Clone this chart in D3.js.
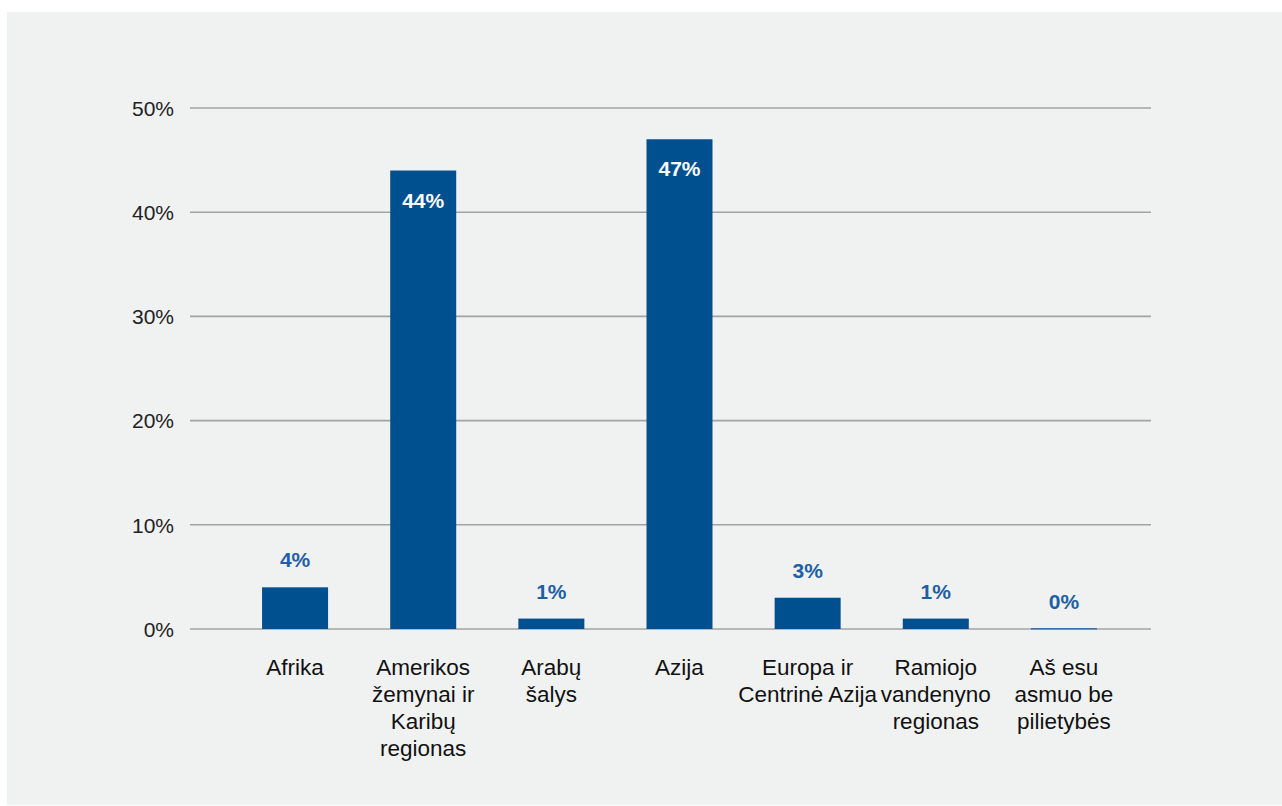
<!DOCTYPE html>
<html>
<head>
<meta charset="utf-8">
<script src="https://cdn.jsdelivr.net/npm/d3@7"></script>
<style>
  html, body { margin: 0; padding: 0; background: #ffffff; }
  svg { display: block; }
</style>
</head>
<body>
<svg id="chart" width="1282" height="806"></svg>
<script>
const categories = [
  ["Afrika"],
  ["Amerikos", "žemynai ir", "Karibų", "regionas"],
  ["Arabų", "šalys"],
  ["Azija"],
  ["Europa ir", "Centrinė Azija"],
  ["Ramiojo", "vandenyno", "regionas"],
  ["Aš esu", "asmuo be", "pilietybės"]
];
const values = [4, 44, 1, 47, 3, 1, 0];
const yTicks = [0, 10, 20, 30, 40, 50];

const svg = d3.select("#chart");
svg.append("rect").attr("x", 7).attr("y", 12).attr("width", 1275).attr("height", 793).attr("fill", "#f0f1f1");

const gridLeft = 190, gridRight = 1151;
const y = d3.scaleLinear().domain([0, 50]).range([629, 108]);
const x = d3.scaleBand().domain(d3.range(categories.length)).range([231, 1128]).paddingInner(0.485).paddingOuter(0.2425);

// gridlines
svg.append("g").selectAll("line").data(yTicks).join("line")
  .attr("x1", gridLeft).attr("x2", gridRight)
  .attr("y1", d => y(d)).attr("y2", d => y(d))
  .attr("stroke", "#a3a3a3").attr("stroke-width", 1.6);

// y axis labels
const yAxis = d3.axisLeft(y).tickValues(yTicks).tickFormat(d => d + "%").tickSize(0).tickPadding(0);
const ya = svg.append("g").attr("transform", "translate(174,0)").call(yAxis);
ya.select(".domain").remove();
ya.selectAll("text").attr("font-family", "'Liberation Sans', Arial, sans-serif").attr("font-size", 21).attr("fill", "#222").attr("dy", "0.35em");

// bars
svg.append("g").selectAll("rect").data(values).join("rect")
  .attr("x", (d, i) => x(i)).attr("width", x.bandwidth())
  .attr("y", d => d === 0 ? y(0) - 1 : y(d))
  .attr("height", d => d === 0 ? 1.5 : y(0) - y(d))
  .attr("fill", d => d === 0 ? "#3a6fb0" : "#00508f");

// value labels
svg.append("g").selectAll("text").data(values).join("text")
  .attr("x", (d, i) => x(i) + x.bandwidth() / 2)
  .attr("y", d => d > 20 ? y(d) + 37 : y(d) - 20)
  .attr("text-anchor", "middle")
  .attr("font-family", "'Liberation Sans', Arial, sans-serif")
  .attr("font-weight", "bold").attr("font-size", 21)
  .attr("fill", d => d > 20 ? "#ffffff" : "#1f5fa6")
  .text(d => d + "%");

// category labels
const cl = svg.append("g").selectAll("text").data(categories).join("text")
  .attr("x", (d, i) => x(i) + x.bandwidth() / 2)
  .attr("y", 675)
  .attr("text-anchor", "middle")
  .attr("font-family", "'Liberation Sans', Arial, sans-serif")
  .attr("font-size", 22.5).attr("fill", "#111");
cl.selectAll("tspan").data(d => d).join("tspan")
  .attr("x", function() { return d3.select(this.parentNode).attr("x"); })
  .attr("dy", (d, i) => i === 0 ? 0 : 27)
  .text(d => d);
</script>
</body>
</html>
